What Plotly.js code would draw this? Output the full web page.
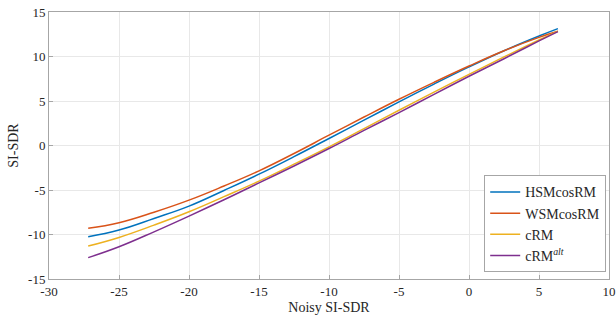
<!DOCTYPE html>
<html><head><meta charset="utf-8">
<script src="https://cdn.plot.ly/plotly-3.0.1.min.js"></script>
<style>html,body{margin:0;padding:0;background:#fff}#chart{width:616px;height:322px}</style>
</head><body><div id="chart"></div>
<script>
const noisy = [-27.2, -25, -22.5, -20, -17.5, -15, -12.5, -10, -7.5, -5, -2.5, 0, 2.5, 5, 6.35];
const hsmCosRM = [-10.25, -9.5, -8.2, -6.81, -5.05, -3.22, -1.25, 0.79, 2.85, 4.9, 6.9, 8.83, 10.65, 12.3, 13.13];
const wsmCosRM = [-9.3, -8.68, -7.5, -6.14, -4.55, -2.85, -0.9, 1.16, 3.2, 5.2, 7.1, 8.93, 10.65, 12.15, 12.83];
const cRM = [-11.3, -10.33, -8.95, -7.45, -5.75, -4.0, -2.1, -0.15, 1.9, 3.96, 6.0, 8.0, 9.95, 11.85, 12.85];
const cRMalt = [-12.6, -11.38, -9.7, -7.93, -6.1, -4.2, -2.3, -0.34, 1.7, 3.7, 5.75, 7.78, 9.75, 11.75, 12.8];
const names = ['HSMcosRM', 'WSMcosRM', 'cRM', 'cRM<sup><i>alt</i></sup>'];
const series = [hsmCosRM, wsmCosRM, cRM, cRMalt];
const colors = ['#0072BD', '#D95319', '#EDB120', '#7E2F8E'];
const xTicks = [-30, -25, -20, -15, -10, -5, 0, 5, 10];
const yTicks = [-15, -10, -5, 0, 5, 10, 15];

const traces = series.map((ys, i) => ({
  x: noisy, y: ys, name: names[i], type: 'scatter', mode: 'lines',
  line: {color: colors[i], width: 1.5, shape: 'spline', smoothing: 1.2}
}));
const font = {family: '"Liberation Serif", "DejaVu Serif", serif', size: 13, color: '#262626'};
const axisCommon = {
  showgrid: true, gridcolor: '#e8e8e8', gridwidth: 1, zeroline: false,
  showline: true, linecolor: '#a6a6a6', linewidth: 1, mirror: true,
  ticks: 'inside', ticklen: 4, tickcolor: '#a6a6a6', tickfont: font
};
const layout = {
  width: 616, height: 322,
  margin: {l: 49, r: 7, t: 12, b: 43},
  paper_bgcolor: '#fff', plot_bgcolor: '#fff',
  font: font,
  showlegend: true,
  xaxis: Object.assign({}, axisCommon, {range: [-30, 10], tickvals: xTicks, ticktext: xTicks.map(String),
    title: {text: 'Noisy SI-SDR', font: {family: font.family, size: 14, color: '#262626'}, standoff: 4}}),
  yaxis: Object.assign({}, axisCommon, {range: [-15, 15], tickvals: yTicks, ticktext: yTicks.map(String),
    title: {text: 'SI-SDR', font: {family: font.family, size: 14, color: '#262626'}, standoff: 6}}),
  legend: {x: 0.995, y: 0.025, xanchor: 'right', yanchor: 'bottom', bgcolor: '#fff',
    bordercolor: '#a6a6a6', borderwidth: 1, font: {family: font.family, size: 14, color: '#262626'},
    tracegroupgap: 0, itemwidth: 30}
};
Plotly.newPlot('chart', traces, layout, {displayModeBar: false, staticPlot: true});
</script>
</body></html>
